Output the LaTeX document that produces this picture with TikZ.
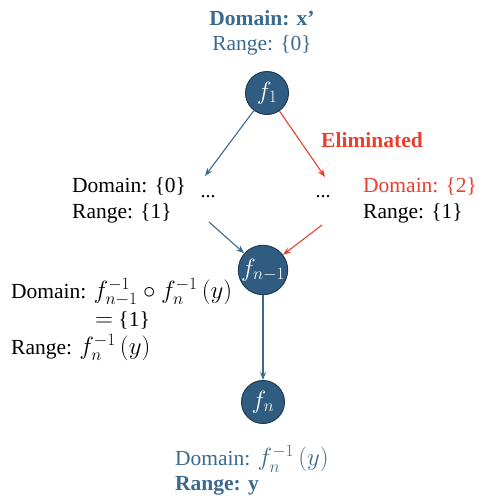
\documentclass[tikz,border=0pt]{standalone}
\usepackage{fontspec}
\setmainfont{Liberation Serif}
\usetikzlibrary{arrows.meta}
\definecolor{nodeblue}{HTML}{2F5C80}
\definecolor{nodeedge}{HTML}{1E3C56}
\definecolor{txtblue}{HTML}{3B6A8E}
\definecolor{elimred}{HTML}{E8402E}
\newcommand{\lgmath}[1]{{\fontsize{23}{28}\selectfont$#1$}}
\newcommand{\tightlines}{\setlength{\lineskiplimit}{-30pt}\setlength{\lineskip}{0pt}}
\tikzset{
  fnode/.style={circle, fill=nodeblue, draw=nodeedge, line width=1pt, minimum size=43pt, inner sep=0pt, text=white, font=\fontsize{23}{25}\selectfont},
  lbl/.style={inner sep=0pt, font=\fontsize{21.5}{27}\selectfont, align=left},
  lblb/.style={lbl, font=\bfseries\fontsize{21.5}{27}\selectfont},
  tightlbl/.style={inner sep=0pt, align=left, font=\fontsize{21.5}{28}\selectfont\tightlines},
  arr/.style={-{Stealth[length=8pt,width=6pt]}, line width=1.1pt},
  bluearr/.style={arr, draw=txtblue},
  redarr/.style={arr, draw=elimred},
  dotsn/.style={inner sep=1pt, font=\fontsize{20}{24}\selectfont}
}
\begin{document}
\begin{tikzpicture}[x=1pt,y=-1pt]
\useasboundingbox (0,0) rectangle (485,498);
\node[fnode] (f1) at (267,93) {$f_1$};
\node[fnode] (fn1) at (263,270) {$f_{n-1}$};
\node[fnode] (fn) at (263,402) {$f_n$};
\node[dotsn] (dl) at (208,197) {...};
\node[dotsn] (dr) at (323,197) {...};
\coordinate (dlt) at (205,176);
\coordinate (drt) at (325,177);
\coordinate (dlb) at (209,222);
\coordinate (drb) at (322,225);
\draw[bluearr] (f1) -- (dlt);
\draw[redarr] (f1) -- (drt);
\draw[bluearr] (dlb) -- (fn1);
\draw[redarr] (drb) -- (fn1);
\draw[bluearr] (fn1) -- (fn);
% top labels
\node[lblb, text=txtblue] (t1) at (262,18) {Domain: x’};
\node[lbl, text=txtblue] (t2) at (262,45) {Range: \{0\}};
\node[lblb, text=elimred] (elim) at (372,140) {Eliminated};
% left middle
\node[lbl, anchor=west] (l1) at (72,186) {Domain: \{0\}};
\node[lbl, anchor=west] (l2) at (72,213) {Range: \{1\}};
% right middle
\node[lbl, anchor=west, text=elimred] (r1) at (363,186) {Domain: \{2\}};
\node[lbl, anchor=west] (r2) at (363,213) {Range: \{1\}};
% left lower
\node[tightlbl, anchor=north west] (b1) at (11,278) {Domain: \lgmath{f_{n-1}^{-1}\circ f_n^{-1}\,(y)}\\
\hspace*{84pt}\lgmath{=} \{1\}\\
Range: \lgmath{f_n^{-1}\,(y)}};
% bottom
\node[lbl, anchor=west, text=txtblue] (d1) at (175,459) {Domain: \lgmath{f_n^{-1}\,(y)}};
\node[lblb, anchor=west, text=txtblue] (d2) at (175,486) {Range: y};
\end{tikzpicture}
\end{document}
